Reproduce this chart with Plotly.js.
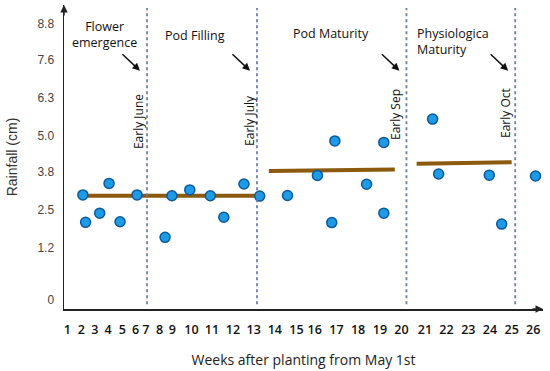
<!DOCTYPE html>
<html>
<head>
<meta charset="utf-8">
<script src="https://cdn.plot.ly/plotly-3.0.1.min.js"></script>
<style>html,body{margin:0;padding:0;background:#fff;}#chart{width:550px;height:371px;}</style>
</head>
<body>
<div id="chart"></div>
<script>
// Week tick labels and their positions along the (unevenly labelled) x axis
const weekTickText = ["1","2","3","4","5","6","7","8","9","10","11","12","13","14","15","16","17","18","19","20","21","22","23","24","25","26"];
const weekTickPos  = [3.55,4.23,4.87,5.51,6.20,6.84,7.33,8.00,8.61,9.53,10.52,11.53,12.53,13.55,14.59,15.47,16.52,17.56,18.61,19.65,20.78,21.82,22.87,23.91,24.96,26.00];

// Rainfall tick labels (cm) and their positions
const rainTickText = ["0","1.2","2.5","3.8","5.0","6.3","7.6","8.8"];
const rainTickPos  = [-0.55,1.2,2.5,3.8,5.0,6.3,7.6,8.8];

// Weekly rainfall observations
const rainX = [4.30,4.43,5.11,5.56,6.09,6.91,8.26,8.59,9.45,10.44,11.09,12.06,12.82,14.16,15.60,16.44,16.29,17.97,18.80,18.80,21.15,21.44,23.88,24.48,26.11];
const rainY = [3.01,2.08,2.39,3.40,2.10,3.01,1.57,2.98,3.18,2.98,2.25,3.38,2.97,2.99,3.67,4.84,2.07,3.37,4.79,2.39,5.58,3.72,3.68,2.02,3.65];

// Phase mean rainfall lines (start/end)
const meanLineX = [[4.18,12.58],[13.26,19.33],[20.38,24.96]];
const meanLineY = [[2.98,2.98],[3.82,3.87],[4.07,4.12]];

// Stage boundaries
const boundaryX = [7.39,12.69,19.89,25.13];
const boundaryText = ["Early June","Early July","Early Sep","Early Oct"];
const boundaryLabelX = [6.95,12.30,19.39,24.69];
const boundaryLabelY = [5.51,5.55,5.72,5.79];

// Growth stage labels
const stageText = ["Flower<br>emergence","Pod Filling","Pod Maturity","Physiologica<br>Maturity"];
const stageX = [5.35,9.69,16.25,20.29];
const stageY = [8.46,8.43,8.50,8.22];
const stageAnchor = ["center","center","center","left"];

const xRange = [3.39,26.47];
const yRange = [-0.86,9.45];

const traces = [];
meanLineX.forEach((xs,i)=>{
  traces.push({type:'scatter',mode:'lines',x:xs,y:meanLineY[i],
    line:{color:'#8B5A0F',width:4},hoverinfo:'skip',showlegend:false});
});
traces.push({type:'scatter',mode:'markers',x:rainX,y:rainY,showlegend:false,
  marker:{size:10,color:'#1E9BE6',line:{color:'#0B5A99',width:1.5}}});

const shapes = boundaryX.map(bx=>({type:'line',xref:'x',yref:'y',x0:bx,x1:bx,y0:-0.7,y1:9.35,
  line:{color:'#6A7DB3',width:1.8,dash:'dot'}}));

const annotations = [];
boundaryX.forEach((bx,i)=>{
  annotations.push({x:boundaryLabelX[i],y:boundaryLabelY[i],xref:'x',yref:'y',text:boundaryText[i],
    textangle:-90,showarrow:false,font:{family:'Open Sans, sans-serif',size:12,color:'#111'}});
  annotations.push({x:bx-0.34,y:7.22,xref:'x',yref:'y',text:'',showarrow:true,
    ax:-19,ay:-18,arrowhead:2,arrowsize:1,arrowwidth:1.5,arrowcolor:'#111'});
});
stageText.forEach((t,i)=>{
  annotations.push({x:stageX[i],y:stageY[i],xref:'x',yref:'y',text:t,showarrow:false,
    xanchor:stageAnchor[i],align:stageAnchor[i],
    font:{family:'Open Sans, sans-serif',size:12.5,color:'#111'}});
});
// axis arrows
annotations.push({x:0,y:1,xref:'paper',yref:'paper',text:'',showarrow:true,ax:0,ay:12,
  arrowhead:2,arrowsize:1,arrowwidth:1.5,arrowcolor:'#222'});
annotations.push({x:1,y:0,xref:'paper',yref:'paper',text:'',showarrow:true,ax:-12,ay:0,
  arrowhead:2,arrowsize:1,arrowwidth:1.5,arrowcolor:'#222'});

const layout = {
  width:550,height:371,
  margin:{l:64,r:7,t:5,b:62},
  paper_bgcolor:'#fff',plot_bgcolor:'#fff',
  font:{family:'Open Sans, sans-serif',color:'#222'},
  xaxis:{range:xRange,tickmode:'array',tickvals:weekTickPos,ticktext:weekTickText,
    showgrid:false,zeroline:false,showline:true,linecolor:'#222',linewidth:1.5,
    ticks:'',ticklabelstandoff:8,
    tickfont:{family:'Open Sans, sans-serif',size:12.5,color:'#111',weight:600},
    title:{text:'Weeks after planting from May 1st',standoff:18,
      font:{family:'Open Sans, sans-serif',size:14,color:'#222'}}},
  yaxis:{range:yRange,tickmode:'array',tickvals:rainTickPos,ticktext:rainTickText,
    showgrid:false,zeroline:false,showline:true,linecolor:'#222',linewidth:1.5,
    ticks:'',ticklabelstandoff:6,
    tickfont:{family:'Liberation Sans, Arial, sans-serif',size:12,color:'#444'},
    title:{text:'Rainfall (cm)',standoff:16,
      font:{family:'Liberation Sans, Arial, sans-serif',size:14,color:'#333'}}},
  shapes:shapes,
  annotations:annotations
};

Plotly.newPlot('chart',traces,layout,{staticPlot:true,displayModeBar:false});
</script>
</body>
</html>
